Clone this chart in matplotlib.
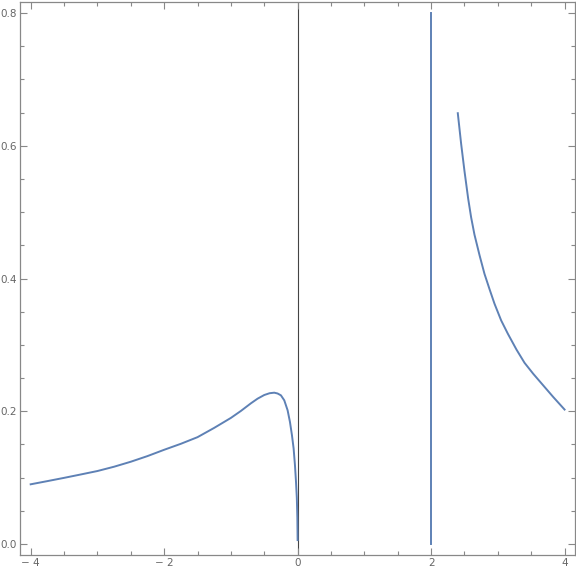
import numpy as np
import matplotlib
matplotlib.use('Agg')
import matplotlib.pyplot as plt
from matplotlib.ticker import MultipleLocator, FixedLocator

# left branch
x_left = [-4.0, -3.75, -3.5, -3.25, -3.0, -2.75, -2.5, -2.25, -2.0, -1.75, -1.5,
          -1.25, -1.0, -0.85, -0.7, -0.6, -0.5, -0.42, -0.35, -0.3, -0.25, -0.2,
          -0.15, -0.115, -0.085, -0.06, -0.04, -0.025, -0.012, -0.004, 0.0]
y_left = [0.090, 0.0948, 0.0997, 0.1048, 0.110, 0.1165, 0.124, 0.1325, 0.142, 0.151, 0.161,
          0.175, 0.190, 0.2005, 0.212, 0.219, 0.2245, 0.2272, 0.228, 0.2268, 0.224, 0.2165,
          0.2015, 0.184, 0.164, 0.144, 0.119, 0.095, 0.070, 0.040, 0.006]

# vertical segment at x = 2
x_vert = [2.0, 2.0]
y_vert = [0.0, 0.8]

# right branch
x_right = [2.4, 2.45, 2.5, 2.556, 2.6, 2.65, 2.727, 2.8, 2.877, 2.95,
           3.05, 3.15, 3.28, 3.4, 3.53, 3.65, 3.83, 4.0]
y_right = [0.649, 0.603, 0.562, 0.520, 0.492, 0.466, 0.4346, 0.407, 0.3835, 0.362,
           0.3368, 0.3168, 0.2928, 0.273, 0.2565, 0.2425, 0.2215, 0.2026]

blue = '#5E81B5'
gray = '#888888'

fig = plt.figure(figsize=(5.76, 5.70), dpi=100)
ax = fig.add_axes([0.0347, 0.0263, 0.964, 0.9702])

ax.axvline(0, color='#444444', lw=0.8, zorder=1)
ax.plot(x_left, y_left, color=blue, lw=1.4)
ax.plot(x_vert, y_vert, color=blue, lw=1.4)
ax.plot(x_right, y_right, color=blue, lw=1.4)

ax.set_xlim(-4.16, 4.16)
ax.set_ylim(-0.0165, 0.8165)

ax.xaxis.set_major_locator(FixedLocator([-4, -2, 0, 2, 4]))
ax.xaxis.set_minor_locator(MultipleLocator(0.5))
ax.yaxis.set_major_locator(FixedLocator([0, 0.2, 0.4, 0.6, 0.8]))
ax.yaxis.set_minor_locator(MultipleLocator(0.05))
ax.set_xticklabels(['\u2212 4', '\u2212 2', '0', '2', '4'])
ax.set_yticklabels(['0.0', '0.2', '0.4', '0.6', '0.8'])

ax.tick_params(which='both', direction='in', top=True, right=True, color=gray,
               labelcolor='#666666', labelsize=7.5, pad=2, width=0.8)
ax.tick_params(which='major', length=5)
ax.tick_params(which='minor', length=3)
for s in ax.spines.values():
    s.set_color(gray)
    s.set_linewidth(0.9)

fig.savefig('out.png', dpi=100)
